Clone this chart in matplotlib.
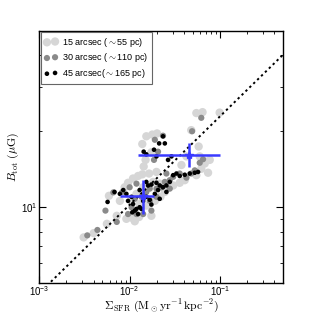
import matplotlib
matplotlib.use("Agg")
import matplotlib.pyplot as plt
import numpy as np

plt.rcParams['font.family'] = ['Liberation Sans', 'DejaVu Sans']
plt.rcParams['mathtext.fontset'] = 'cm'

# 15 arcsec (~55 pc)
sfr_15 = [0.0031, 0.0040, 0.0056, 0.0059, 0.0072, 0.0088, 0.0096, 0.0109, 0.0124, 0.0138,
          0.0092, 0.0105, 0.0114, 0.0127, 0.0174, 0.0153, 0.0190, 0.0219, 0.0245, 0.0153,
          0.0178, 0.0201, 0.0138, 0.0174, 0.0150, 0.0143, 0.0164, 0.0198, 0.0547, 0.064,
          0.099, 0.048, 0.058, 0.0374, 0.0425, 0.0596, 0.0677, 0.0737, 0.062, 0.0547,
          0.0358, 0.0407, 0.0303, 0.0266, 0.0119, 0.0105, 0.0129, 0.0182, 0.0215, 0.0769,
          0.0078, 0.0141]
b_15 = [7.6, 7.9, 8.6, 11.1, 9.25, 12.0, 12.5, 13.0, 13.3, 13.5,
        9.0, 9.1, 8.8, 9.15, 9.25, 10.15, 10.6, 11.0, 11.5, 19.1,
        19.4, 19.6, 17.8, 16.5, 15.4, 14.5, 13.6, 13.8, 23.6, 23.8,
        23.7, 20.2, 17.4, 14.7, 15.9, 15.9, 14.9, 13.7, 14.2, 13.4,
        12.5, 12.8, 12.2, 12.0, 11.3, 10.6, 10.3, 12.6, 12.4, 15.4,
        10.6, 12.0]

# 30 arcsec (~110 pc)
sfr_30 = [0.0034, 0.0044, 0.0054, 0.0066, 0.0072, 0.0083, 0.0100, 0.0119, 0.0114, 0.0135,
          0.0153, 0.0167, 0.0198, 0.0224, 0.0245, 0.0278, 0.0303, 0.0234, 0.0190, 0.0186,
          0.0206, 0.0174, 0.0141, 0.0119, 0.0096, 0.062, 0.0491, 0.0596, 0.048, 0.0425,
          0.0525, 0.0649, 0.0358, 0.0278, 0.0198, 0.0167, 0.0105, 0.0255]
b_30 = [7.74, 8.13, 9.7, 11.45, 8.75, 11.5, 12.0, 12.4, 10.8, 11.0,
        11.5, 11.85, 11.85, 12.0, 12.6, 12.8, 13.2, 19.2, 18.5, 15.4,
        16.6, 9.7, 9.4, 9.4, 9.4, 22.6, 20.0, 15.0, 13.6, 13.1,
        14.0, 15.5, 13.6, 11.85, 11.0, 10.6, 10.0, 13.6]

# 45 arcsec (~165 pc)
sfr_45 = [0.0057, 0.0068, 0.0085, 0.0092, 0.0105, 0.0109, 0.0114, 0.0119, 0.0129, 0.0107,
          0.0124, 0.0135, 0.0153, 0.0160, 0.0174, 0.0198, 0.0215, 0.0234, 0.0255, 0.0206,
          0.0190, 0.0153, 0.0167, 0.0141, 0.0129, 0.0255, 0.0278, 0.0303, 0.0329, 0.0358,
          0.0407, 0.0462, 0.0525, 0.0571, 0.0234, 0.0212, 0.0245, 0.0186, 0.0198, 0.0266,
          0.0290, 0.0143, 0.0153, 0.0215, 0.0174, 0.0096, 0.0078]
b_45 = [10.5, 11.5, 11.7, 11.3, 11.0, 10.3, 9.7, 9.85, 10.0, 9.55,
        9.4, 9.85, 12.6, 12.2, 12.3, 12.5, 12.2, 12.0, 12.2, 11.7,
        11.3, 11.0, 10.7, 10.6, 11.7, 11.5, 12.6, 13.4, 13.6, 13.3,
        13.45, 13.6, 13.7, 13.8, 19.1, 17.9, 17.9, 16.9, 15.9, 15.4,
        15.9, 16.6, 16.2, 10.8, 10.25, 10.6, 11.3]

# Mean values with error bars (blue)
mean_sfr = [0.0139, 0.0451]
mean_b = [11.07, 16.1]
sfr_err_lo = [0.0139 - 0.0078, 0.0451 - 0.0124]
sfr_err_hi = [0.0186 - 0.0139, 0.0993 - 0.0451]
b_err_lo = [11.07 - 9.4, 16.1 - 14.5]
b_err_hi = [12.8 - 11.07, 17.9 - 16.1]

# Power-law fit
fit_slope = 0.35
fit_logA = 1.71
fit_x = [1e-3, 0.5]

fig = plt.figure(figsize=(3.14, 3.15), dpi=100)
ax = fig.add_axes([0.125, 0.1006, 0.777, 0.8019])

ax.scatter(sfr_15, b_15, s=36, color='#d6d6d6', edgecolors='none', zorder=2,
           label='15 arcsec ($\\sim$55 pc)')
ax.scatter(sfr_30, b_30, s=20, color='#8a8a8a', edgecolors='none', zorder=3,
           label='30 arcsec ($\\sim$110 pc)')
ax.scatter(sfr_45, b_45, s=11, color='black', edgecolors='none', zorder=4,
           label='45 arcsec($\\sim$165 pc)')

fx = np.array(fit_x)
ax.plot(fx, 10**fit_logA * fx**fit_slope, color='black', linestyle=(0, (1.2, 1.6)),
        lw=1.4, zorder=5)

ax.errorbar(mean_sfr, mean_b, xerr=[sfr_err_lo, sfr_err_hi], yerr=[b_err_lo, b_err_hi],
            fmt='*', color='#3a3aff', ms=6, elinewidth=1.8, capsize=0, zorder=6)

ax.set_xscale('log')
ax.set_yscale('log')
ax.set_xlim(1e-3, 0.5)
ax.set_ylim(5, 50)

ax.tick_params(which='both', direction='in', top=True, right=True, labelsize=7, pad=1)
ax.tick_params(which='major', length=5, width=0.8)
ax.tick_params(which='minor', length=2.5, width=0.6)
ax.yaxis.set_minor_formatter(matplotlib.ticker.NullFormatter())
for s in ax.spines.values():
    s.set_linewidth(1.0)

ax.set_xlabel('$\\Sigma_{\\rm SFR}\\ ({\\rm M_\\odot yr^{-1}\\,kpc^{-2}})$', fontsize=8.5)
ax.set_ylabel('$B_{\\rm tot}\\ (\\mu{\\rm G})$', fontsize=8.5)
ax.xaxis.label.set_va('center')
ax.yaxis.label.set_va('center')
ax.xaxis.set_label_coords(0.5, -0.092)
ax.yaxis.set_label_coords(-0.108, 0.5)

leg = ax.legend(loc='upper left', fontsize=6.5, scatterpoints=2, fancybox=False,
                borderaxespad=0.15, handletextpad=0.5, labelspacing=0.3, borderpad=0.4,
                handlelength=1.5, framealpha=1)
leg.get_frame().set_edgecolor('#666666')
leg.get_frame().set_linewidth(0.8)

fig.savefig('out.png', dpi=100)
